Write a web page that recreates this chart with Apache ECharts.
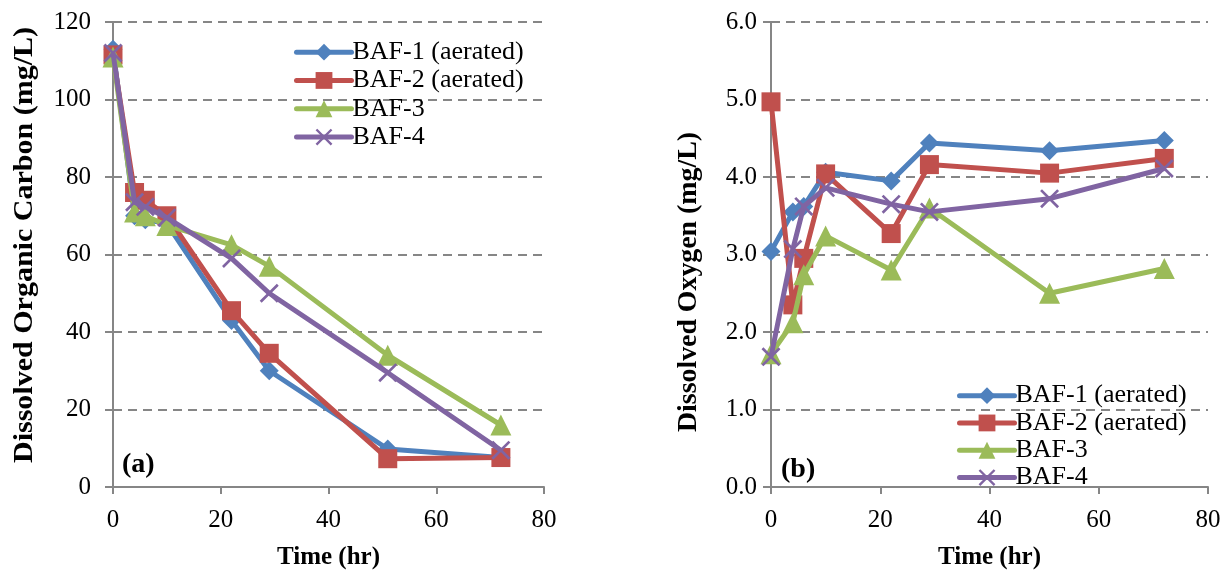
<!DOCTYPE html>
<html>
<head>
<meta charset="utf-8">
<script src="https://cdn.jsdelivr.net/npm/echarts@6/dist/echarts.min.js"></script>
<style>
html,body{margin:0;padding:0;background:#fff;}
#c{width:1228px;height:575px;}
</style>
</head>
<body>
<div id="c"></div>
<script>
// ---- data ----
const seriesNames = ['BAF-1 (aerated)', 'BAF-2 (aerated)', 'BAF-3', 'BAF-4'];
const timeHr = [0, 4, 6, 10, 22, 29, 51, 72];
const docBAF1 = [113, 70, 69, 68, 43, 30, 9.8, 7.6];
const docBAF2 = [111.5, 76, 74, 70, 45.5, 34.5, 7.3, 7.6];
const docBAF3 = [111, 71, 70, 67.5, 62.5, 57, 34, 16];
const docBAF4 = [112, 73.5, 72.3, 69.5, 59, 50, 29.5, 9.5];
const doBAF1 = [3.04, 3.55, 3.62, 4.06, 3.95, 4.44, 4.34, 4.47];
const doBAF2 = [4.97, 2.35, 2.95, 4.04, 3.27, 4.16, 4.05, 4.24];
const doBAF3 = [1.72, 2.12, 2.74, 3.24, 2.8, 3.6, 2.5, 2.82];
const doBAF4 = [1.68, 3.07, 3.62, 3.86, 3.65, 3.55, 3.72, 4.11];
const xTicks = [0, 20, 40, 60, 80];
const docTicks = [0, 20, 40, 60, 80, 100, 120];
const doTicks = [0, 1, 2, 3, 4, 5, 6];
const xTitle = 'Time (hr)';
const docTitle = 'Dissolved Organic Carbon (mg/L)';
const doTitle = 'Dissolved Oxygen (mg/L)';
const panelLabels = ['(a)', '(b)'];

// ---- styling ----
const colors = ['#4F81BD', '#C0504D', '#9BBB59', '#8064A2'];
const xMark = 'path://M0,1L1,0L10,9L9,10Z M9,0L10,1L1,10L0,9Z';
const symbols = ['diamond', 'rect', 'triangle', xMark];
const symbolSizes = [19, 19, 21, 19];
const FONT = 'Liberation Serif';
const axisGray = '#868686';

function zip(xs, ys) { return xs.map((x, i) => [x, ys[i]]); }

function makeSeries(gridIdx, arrays) {
  return arrays.map((arr, i) => ({
    name: seriesNames[i],
    type: 'line',
    xAxisIndex: gridIdx,
    yAxisIndex: gridIdx * 2,
    data: zip(timeHr, arr),
    symbol: symbols[i],
    symbolSize: symbolSizes[i],
    showAllSymbol: true,
    lineStyle: { color: colors[i], width: 5 },
    itemStyle: { color: colors[i] },
    emphasis: { disabled: true },
    z: 3 + i
  }));
}

function xAxis(gridIdx) {
  return {
    type: 'value', gridIndex: gridIdx, min: xTicks[0], max: xTicks[xTicks.length - 1], interval: 20,
    name: xTitle, nameLocation: 'middle', nameGap: 58,
    nameTextStyle: { fontFamily: FONT, fontWeight: 'bold', fontSize: 25, color: '#000' },
    axisLine: { show: true, onZero: false, lineStyle: { color: axisGray, width: 2 } },
    axisTick: { show: true, length: 7, lineStyle: { color: axisGray, width: 2 } },
    axisLabel: { fontFamily: FONT, fontSize: 25, color: '#000', margin: 21 },
    splitLine: { show: false }
  };
}

function yAxis(gridIdx, ticks, dec, margin) {
  return {
    type: 'value', gridIndex: gridIdx, min: ticks[0], max: ticks[ticks.length - 1],
    interval: ticks[1] - ticks[0],
    axisLine: { show: true, onZero: false, lineStyle: { color: axisGray, width: 2 } },
    axisTick: { show: true, length: 8, lineStyle: { color: axisGray, width: 2 } },
    axisLabel: { fontFamily: FONT, fontSize: 25, color: '#000', margin: margin,
      formatter: v => v.toFixed(dec) },
    splitLine: { show: true, lineStyle: { color: axisGray, width: 2, type: [9, 6] } }
  };
}

function borderAxis(gridIdx, ticks) {
  return {
    type: 'value', gridIndex: gridIdx, position: 'right', min: ticks[0], max: ticks[ticks.length - 1],
    interval: ticks[1] - ticks[0],
    axisLine: { show: true, lineStyle: { color: axisGray, width: 2 } },
    axisTick: { show: false }, axisLabel: { show: false }, splitLine: { show: false }
  };
}

function legend(left, top, lh) {
  return {
    data: seriesNames, left: left, top: top, orient: 'vertical',
    itemWidth: 55, itemHeight: 21, itemGap: 0, padding: 0,
    selectedMode: false,
    lineStyle: { width: 5, cap: 'round' },
    textStyle: { fontFamily: FONT, fontSize: 26, color: '#000', padding: [0, 0, 0, -4], lineHeight: lh }
  };
}

// vertical axis titles, stretched along their length to the reference extent
const measureCtx = document.createElement('canvas').getContext('2d');
function vTitle(text, cx, cy, targetLen) {
  const font = 'bold 27px "' + FONT + '"';
  measureCtx.font = font;
  const w = measureCtx.measureText(text).width || 1;
  return {
    type: 'text', x: cx, y: cy, rotation: Math.PI / 2, scaleX: targetLen / w,
    style: { text: text, font: font, fill: '#000', align: 'center', verticalAlign: 'middle' }
  };
}

const chart = echarts.init(document.getElementById('c'), null, { renderer: 'canvas' });
chart.setOption({
  animation: false,
  backgroundColor: '#fff',
  grid: [
    { left: 113, right: 684, top: 22, bottom: 85, containLabel: false },
    { left: 771, right: 20, top: 22, bottom: 85, containLabel: false }
  ],
  xAxis: [xAxis(0), xAxis(1)],
  yAxis: [
    yAxis(0, docTicks, 0, 22),
    borderAxis(0, docTicks),
    yAxis(1, doTicks, 1, 14),
    borderAxis(1, doTicks)
  ],
  legend: [legend(294, 38, 28.3), legend(957, 382, 27.3)],
  title: [
    { text: panelLabels[0], left: 122, top: 451, padding: 0,
      textStyle: { fontFamily: FONT, fontWeight: 'bold', fontSize: 28, color: '#000' } },
    { text: panelLabels[1], left: 781, top: 456, padding: 0,
      textStyle: { fontFamily: FONT, fontWeight: 'bold', fontSize: 28, color: '#000' } }
  ],
  graphic: [
    vTitle(docTitle, 25, 245, 436),
    vTitle(doTitle, 689, 282, 300)
  ],
  series: [
    ...makeSeries(0, [docBAF1, docBAF2, docBAF3, docBAF4]),
    ...makeSeries(1, [doBAF1, doBAF2, doBAF3, doBAF4])
  ]
});
</script>
</body>
</html>
